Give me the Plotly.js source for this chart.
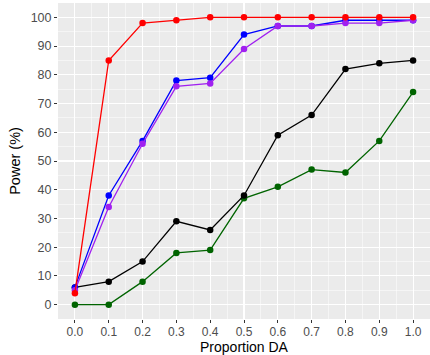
<!DOCTYPE html>
<html><head><meta charset="utf-8">
<script src="https://cdn.plot.ly/plotly-3.0.1.min.js"></script>
<style>html,body{margin:0;padding:0;background:#fff}#c{width:430px;height:355px}</style>
</head><body><div id="c"></div>
<script>
const proportion = [0.0,0.1,0.2,0.3,0.4,0.5,0.6,0.7,0.8,0.9,1.0];
const greenVals  = [0,0,8,18,19,37,41,47,46,57,74];
const blackVals  = [6,8,15,29,26,38,59,66,82,84,85];
const blueVals   = [6,38,57,78,79,94,97,97,99,99,99];
const purpleVals = [5,34,56,76,77,89,97,97,98,98,99];
const redVals    = [4,85,98,99,100,100,100,100,100,100,100];
const xTicks = [0,0.1,0.2,0.3,0.4,0.5,0.6,0.7,0.8,0.9,1.0];
const xTickText = ["0.0","0.1","0.2","0.3","0.4","0.5","0.6","0.7","0.8","0.9","1.0"];
const yTicks = [0,10,20,30,40,50,60,70,80,90,100];

function tr(y,color){return {x:proportion,y:y,type:'scatter',mode:'lines+markers',
  line:{color:color,width:1.3},marker:{color:color,size:6.5},showlegend:false,hoverinfo:'skip'};}
const data=[tr(greenVals,'#006400'),tr(blackVals,'#000000'),tr(blueVals,'#0000FF'),tr(purpleVals,'#A020F0'),tr(redVals,'#FF0000')];
const ax={showline:false,zeroline:false,gridcolor:'#FFFFFF',gridwidth:1.1,ticks:'outside',ticklen:3,tickcolor:'#333333',tickwidth:1,
  tickfont:{family:'Liberation Sans, Arial, sans-serif',size:12.5,color:'#4D4D4D'}};
const layout={width:430,height:355,margin:{l:58,r:0,t:3,b:36},paper_bgcolor:'#FFFFFF',plot_bgcolor:'#EBEBEB',
  xaxis:Object.assign({},ax,{range:[-0.05,1.05],tickvals:xTicks,ticktext:xTickText,ticklabelstandoff:-1,
    tickfont:{family:'Liberation Sans, Arial, sans-serif',size:12,color:'#4D4D4D'},
    minor:{dtick:0.05,tick0:0.05,gridcolor:'#FFFFFF',gridwidth:0.5,ticks:''},
    title:{text:'Proportion DA',standoff:3,font:{family:'Liberation Sans, Arial, sans-serif',size:14,color:'#000'}}}),
  yaxis:Object.assign({},ax,{range:[-5,105],tickvals:yTicks,
    minor:{dtick:5,tick0:5,gridcolor:'#FFFFFF',gridwidth:0.5,ticks:''},
    title:{text:'Power (%)',standoff:6,font:{family:'Liberation Sans, Arial, sans-serif',size:14.5,color:'#000'}}})
};
Plotly.newPlot('c',data,layout,{displayModeBar:false,staticPlot:true});
</script></body></html>
